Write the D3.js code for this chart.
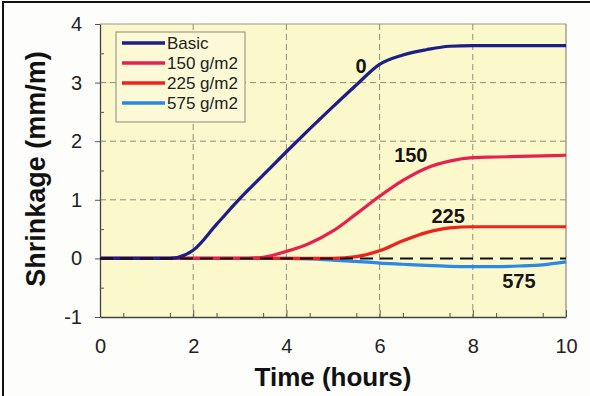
<!DOCTYPE html>
<html>
<head>
<meta charset="utf-8">
<script src="https://cdn.jsdelivr.net/npm/d3@7"></script>
<style>
html,body{margin:0;padding:0;background:#fdfdfb;}
svg{display:block;}
</style>
</head>
<body>
<script>
// ---- data ----
const hours = [0,0.5,1,1.5,2,2.5,3,3.5,4,4.5,5,5.5,6,6.5,7,7.5,8,8.5,9,9.5,10];
const basic = [0,0,0,0,0.14,0.58,1.02,1.42,1.82,2.21,2.59,2.96,3.31,3.47,3.56,3.62,3.63,3.63,3.63,3.63,3.63];
const g150  = [0,0,0,0,0,0,0,0.02,0.12,0.26,0.47,0.76,1.06,1.33,1.54,1.66,1.72,1.73,1.74,1.75,1.76];
const g225  = [0,0,0,0,0,0,0,0,0,0,0,0.03,0.13,0.3,0.44,0.52,0.54,0.54,0.54,0.54,0.54];
const g575  = [0,0,0,0,0,0,0,0,0,-0.01,-0.03,-0.05,-0.08,-0.1,-0.12,-0.135,-0.14,-0.14,-0.13,-0.11,-0.06];
const seriesNames = ["Basic","150 g/m2","225 g/m2","575 g/m2"];
const seriesValues = [basic,g150,g225,g575];
const seriesColors = ["#1b1f86","#e8204e","#f0221c","#2a88e6"];
const xTicks = [0,2,4,6,8,10];
const yTicks = [-1,0,1,2,3,4];
const curveLabels = ["0","150","225","575"];
const curveLabelX = [5.6,6.67,7.47,8.99];
const curveLabelY = [3.29,1.76,0.73,-0.39];
const xTitle = "Time (hours)";
const yTitle = "Shrinkage (mm/m)";

// ---- drawing ----
const W=590,H=396;
const svg=d3.select("body").append("svg").attr("width",W).attr("height",H);
svg.append("rect").attr("width",W).attr("height",H).attr("fill","#fdfdfb");
// outer frame
svg.append("rect").attr("x",3).attr("y",2).attr("width",700).attr("height",500)
  .attr("fill","none").attr("stroke","#111").attr("stroke-width",2);

const x=d3.scaleLinear().domain([0,10]).range([100,566]);
const y=d3.scaleLinear().domain([-1,4]).range([317,24]);

svg.append("rect").attr("x",x(0)).attr("y",y(4)).attr("width",x(10)-x(0)).attr("height",y(-1)-y(4))
  .attr("fill","#fbf8cc");

// gridlines
const grid=svg.append("g").attr("stroke","#8f8f78").attr("stroke-width",1).attr("stroke-dasharray","6,4");
grid.selectAll("line.v").data(xTicks.filter(d=>d>0&&d<10)).enter().append("line")
  .attr("x1",d=>x(d)).attr("x2",d=>x(d)).attr("y1",y(4)).attr("y2",y(-1));
grid.selectAll("line.h").data(yTicks.filter(d=>d>0&&d<4)).enter().append("line")
  .attr("y1",d=>y(d)).attr("y2",d=>y(d)).attr("x1",x(0)).attr("x2",x(10));

// frame top/right
svg.append("line").attr("x1",x(0)).attr("x2",x(10)).attr("y1",y(4)).attr("y2",y(4)).attr("stroke","#9a9a84").attr("stroke-width",1.2);
svg.append("line").attr("x1",x(10)).attr("x2",x(10)).attr("y1",y(4)).attr("y2",y(-1)).attr("stroke","#8a8a78").attr("stroke-width",1.2);

// axes
const fontTick="'Liberation Sans', Arial, Helvetica, sans-serif";
const fmt=d=>String(d);
const xAxis=d3.axisBottom(x).tickValues(xTicks).tickSizeInner(-7).tickSizeOuter(0).tickPadding(22).tickFormat(fmt);
const gx=svg.append("g").attr("transform",`translate(0,${y(-1)})`).call(xAxis);
const xMinor=d3.axisBottom(x).tickValues(d3.range(0.5,10,1)).tickSize(-4).tickFormat("");
svg.append("g").attr("transform",`translate(0,${y(-1)})`).call(xMinor).call(g=>g.select(".domain").remove());
const yAxis=d3.axisLeft(y).tickValues(yTicks).tickSizeInner(5).tickSizeOuter(0).tickPadding(13).tickFormat(fmt);
const gy=svg.append("g").attr("transform",`translate(${x(0)},0)`).call(yAxis);
const yMinor=d3.axisLeft(y).tickValues(d3.range(-0.5,4,1)).tickSize(-4).tickFormat("");
svg.append("g").attr("transform",`translate(${x(0)},0)`).call(yMinor).call(g=>g.select(".domain").remove());
svg.selectAll(".domain").attr("stroke","#444").attr("stroke-width",1.3);
svg.selectAll(".tick line").attr("stroke","#555");
[gx,gy].forEach(g=>g.selectAll("text").attr("font-family",fontTick).attr("font-size",20).attr("fill","#222"));

const lineGen=d3.line().x((d,i)=>x(hours[i])).y(d=>y(d)).curve(d3.curveMonotoneX);
// series (draw 575 first)
const order=[3,2,1,0];
order.forEach(k=>{
  svg.append("path").attr("d",lineGen(seriesValues[k])).attr("fill","none")
    .attr("stroke",seriesColors[k]).attr("stroke-width",3.2).attr("stroke-linejoin","round");
});
// zero dashed reference
svg.append("line").attr("x1",x(0)).attr("x2",x(10)).attr("y1",y(0)).attr("y2",y(0))
  .attr("stroke","#111").attr("stroke-width",2).attr("stroke-dasharray","13,7");

// curve labels
svg.append("g").selectAll("text").data(curveLabels).enter().append("text")
  .attr("x",(d,i)=>x(curveLabelX[i])).attr("y",(d,i)=>y(curveLabelY[i]))
  .attr("dy","0.36em").attr("text-anchor","middle")
  .attr("font-family",fontTick).attr("font-weight","bold").attr("font-size",20).attr("fill","#151515")
  .text(d=>d);

// legend
const lg=svg.append("g");
lg.append("rect").attr("x",116).attr("y",32).attr("width",129).attr("height",90)
  .attr("fill","#fcfad6").attr("stroke","#8a8a7a").attr("stroke-width",1);
seriesNames.forEach((n,i)=>{
  const yy=43+i*20;
  lg.append("line").attr("x1",122).attr("x2",165).attr("y1",yy).attr("y2",yy)
    .attr("stroke",seriesColors[i]).attr("stroke-width",3.5);
  lg.append("text").attr("x",167).attr("y",yy).attr("dy","0.36em")
    .attr("font-family",fontTick).attr("font-size",17).attr("fill","#222").text(n);
});

// titles
svg.append("text").attr("x",333).attr("y",386).attr("text-anchor","middle")
  .attr("font-family",fontTick).attr("font-weight","bold").attr("font-size",26).attr("fill","#111").text(xTitle);
svg.append("text").attr("transform","translate(45,169) rotate(-90)").attr("text-anchor","middle")
  .attr("font-family",fontTick).attr("font-weight","bold").attr("font-size",27).attr("fill","#111").text(yTitle);
</script>
</body>
</html>
